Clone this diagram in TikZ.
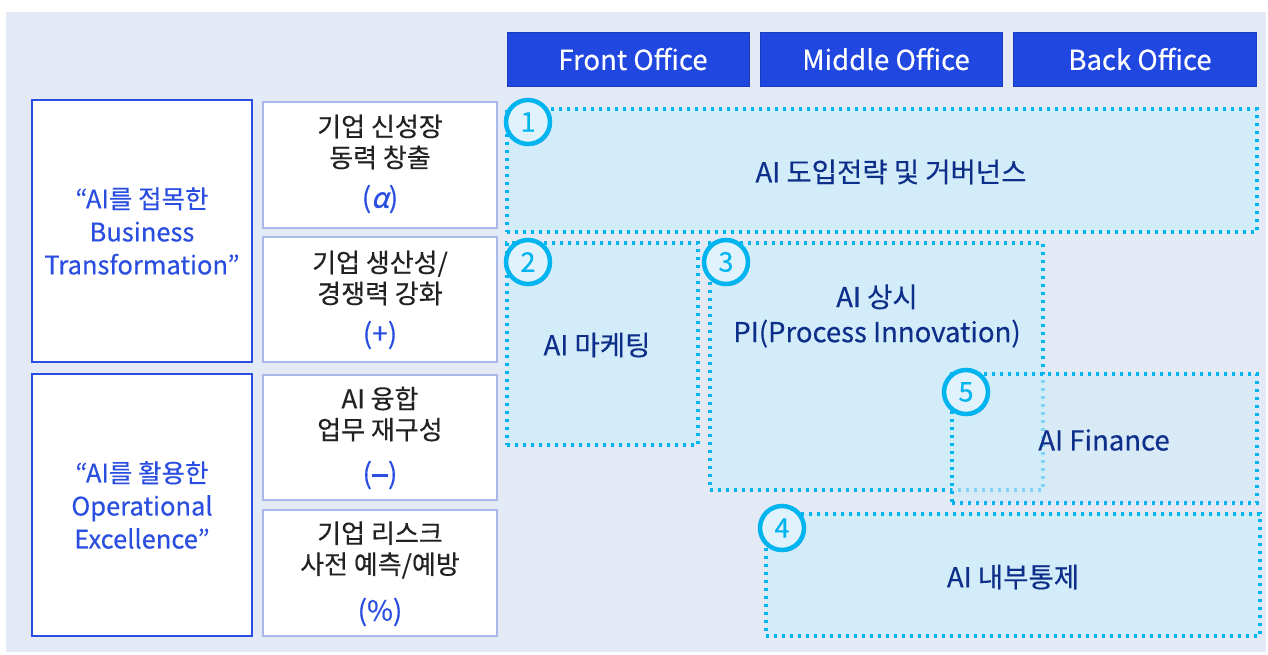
\documentclass[tikz,border=0pt]{standalone}
\usepackage{fontspec}
\setmainfont{Noto Sans CJK KR}[FakeBold=0.35]
\newfontfamily\alphafont{Noto Sans CJK KR}[FakeBold=0.9, FakeSlant=0.22]
\usetikzlibrary{shadows}
\definecolor{bgc}{HTML}{E3E9F5}
\definecolor{hdr}{HTML}{2047E0}
\definecolor{lblue}{HTML}{2A4EE0}
\definecolor{mbord}{HTML}{A9B9E8}
\definecolor{dfill}{HTML}{D3ECF9}
\definecolor{dline}{HTML}{00B4F0}
\definecolor{navy}{HTML}{0D2F8A}
\definecolor{txt}{HTML}{222222}
\tikzset{
  hdrbox/.style={draw=hdr!85!black, line width=0.8pt, fill=hdr, text=white, font=\fontsize{27.5}{27.5}\selectfont, inner sep=0pt},
  leftbox/.style={draw=lblue, line width=2pt, fill=white, text=lblue, align=center, font=\fontsize{25.5}{33}\selectfont, inner sep=0pt},
  midbox/.style={draw=mbord, line width=1.5pt, fill=white, inner sep=0pt},
  dotbox/.style={draw=dline, line width=3.4pt, dash pattern=on 3.4pt off 4.6pt, fill=dfill, inner sep=0pt},
  dottxt/.style={text=navy, align=center, font=\fontsize{27.5}{35}\selectfont},
  midtxt/.style={text=txt, align=center, font=\fontsize{26}{31}\selectfont},
  sym/.style={text=lblue, font=\fontsize{28}{28}\selectfont},
  numc/.style={circle, draw=dline, line width=4.5pt, fill=dfill!70!white, text=dline, minimum size=44pt, inner sep=0pt, font=\fontsize{27}{27}\selectfont, drop shadow={shadow xshift=1.5pt, shadow yshift=-2pt, opacity=0.35, fill=navy}}
}
\begin{document}
\begin{tikzpicture}[x=1pt,y=-1pt]
\useasboundingbox (0,0) rectangle (1268,655);
\fill[white] (0,0) rectangle (1268,655);
\fill[bgc] (6,12) rectangle (1266,652);
% headers
\node[hdrbox, minimum width=242pt, minimum height=54pt] (fo) at (628,59) {};
\node[hdrbox, minimum width=242pt, minimum height=54pt] (mo) at (881,59) {};
\node[hdrbox, minimum width=243pt, minimum height=54pt] (bo) at (1134.5,59) {};
\node[hdrbox, draw=none] (fot) at (633,59) {Front Office};
\node[hdrbox, draw=none] (mot) at (886,59) {Middle Office};
\node[hdrbox, draw=none] (bot) at (1140,59) {Back Office};
% left boxes
\node[leftbox, minimum width=220pt, minimum height=262pt] (l1) at (142,231) {“AI를 접목한\\Business\\Transformation”};
\node[leftbox, minimum width=220pt, minimum height=262pt] (l2) at (142,505) {“AI를 활용한\\Operational\\Excellence”};
% middle boxes
\node[midbox, minimum width=234pt, minimum height=126pt] (m1) at (380,165) {};
\node[midbox, minimum width=234pt, minimum height=125pt] (m2) at (380,299.5) {};
\node[midbox, minimum width=234pt, minimum height=125pt] (m3) at (380,437.5) {};
\node[midbox, minimum width=234pt, minimum height=126pt] (m4) at (380,573) {};
\node[midtxt] (m1t) at (380,142) {기업 신성장\\동력 창출};
\node[sym] (m1s) at (380,199) {({\alphafont α})};
\node[midtxt] (m2t) at (380,278) {기업 생산성/\\경쟁력 강화};
\node[sym] (m2s) at (380,335) {(+)};
\node[midtxt] (m3t) at (380,414) {AI 융합\\업무 재구성};
\node[sym] (m3s) at (380,475) {(\rule[6.5pt]{16pt}{2.8pt})};
\node[midtxt] (m4t) at (380,550) {기업 리스크\\사전 예측/예방};
\node[sym] (m4s) at (380,612) {(\%)};
% dotted boxes
\node[dotbox, minimum width=750pt, minimum height=123pt] (d1) at (882,170.5) {};
\node[dotbox, minimum width=191pt, minimum height=202pt] (d2) at (602.5,344) {};
\node[dotbox, minimum width=333pt, minimum height=247pt] (d3) at (876.5,366.5) {};
\node[dotbox, fill opacity=0.6, minimum width=305pt, minimum height=129pt] (d5) at (1104.5,438.5) {};
\node[dotbox, minimum width=494pt, minimum height=122pt] (d4) at (1013,575) {};
\node[dottxt] (d1t) at (891,172) {AI 도입전략 및 거버넌스};
\node[dottxt] (d2t) at (597,345) {AI 마케팅};
\node[dottxt] (d3t) at (877,316) {AI 상시\\PI(Process Innovation)};
\node[dottxt] (d5t) at (1104,440) {AI Finance};
\node[dottxt] (d4t) at (1013,577) {AI 내부통제};
% number circles
\node[numc] (c1) at (528,122) {1};
\node[numc] (c2) at (528,262) {2};
\node[numc] (c3) at (726,262) {3};
\node[numc] (c5) at (966,392) {5};
\node[numc] (c4) at (782,528) {4};
\end{tikzpicture}
\end{document}
